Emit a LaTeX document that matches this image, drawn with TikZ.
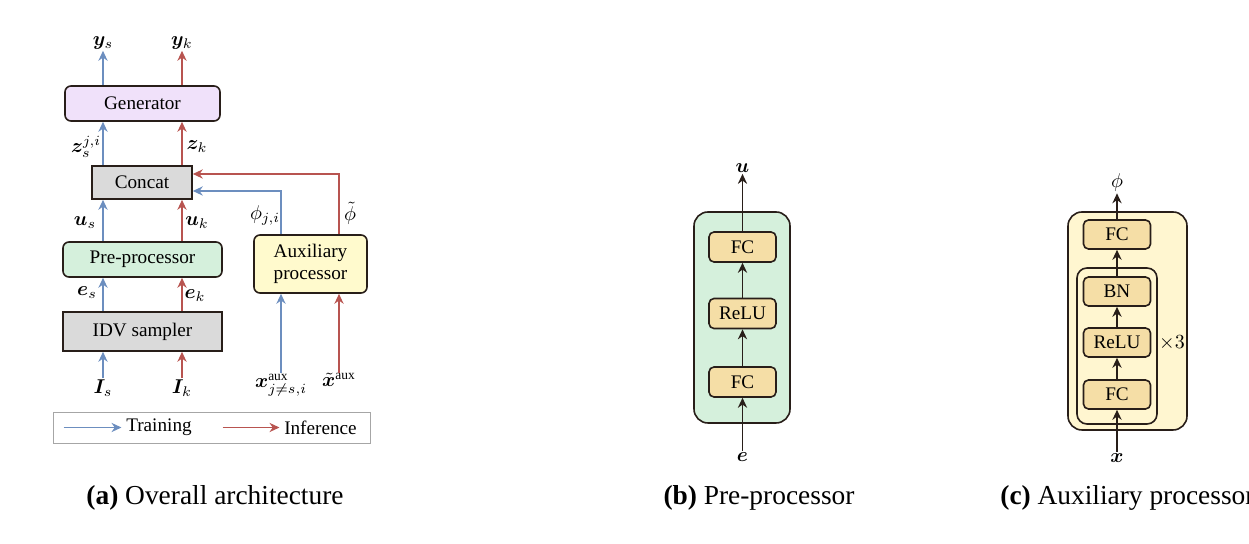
\documentclass[tikz,border=0pt]{standalone}
\usepackage{amsmath,amssymb,bm}
\usepackage{fontspec}
\setmainfont{Liberation Serif}
\usepackage{xcolor}
\usepackage{tikz}
\usetikzlibrary{arrows.meta}
\definecolor{trnblue}{RGB}{108,142,191}
\definecolor{infred}{RGB}{184,84,80}
\definecolor{genfill}{RGB}{240,225,250}
\definecolor{catfill}{RGB}{218,218,218}
\definecolor{prefill}{RGB}{213,240,220}
\definecolor{auxfill}{RGB}{255,250,205}
\definecolor{layfill}{RGB}{245,222,166}
\definecolor{panfill}{RGB}{255,246,208}
\definecolor{edge}{RGB}{40,30,25}

\begin{document}
\begin{tikzpicture}[x=0.5pt,y=-0.5pt,>={Stealth[length=5pt,width=4.6pt]},
  font=\fontsize{9.6}{11}\selectfont,
  blk/.style={draw=edge,line width=0.8pt,align=center,inner sep=1pt},
  rblk/.style={blk,rounded corners=3pt},
  layer/.style={blk,rounded corners=2.5pt,fill=layfill,minimum width=33.5pt,minimum height=15pt},
  panel/.style={draw=edge,line width=0.8pt,rounded corners=7pt},
  trn/.style={->,trnblue,line width=0.75pt},
  inf/.style={->,infred,line width=0.75pt},
  arr/.style={->,edge,line width=0.9pt},
  lab/.style={inner sep=0.5pt},
  subcap/.style={font=\fontsize{13.7}{16}\selectfont,inner sep=0pt}]
\useasboundingbox (0,0) rectangle (1249,544);
% (a) blocks
\node[rblk,fill=genfill,minimum width=77.5pt,minimum height=17.5pt] (gen) at (142.5,103.5) {Generator};
\node[blk,fill=catfill,minimum width=50pt,minimum height=16.5pt] (cat) at (142,182.5) {Concat};
\node[rblk,fill=prefill,minimum width=79.5pt,minimum height=17.5pt] (pre) at (142.5,259.5) {Pre-processor};
\node[blk,fill=catfill,minimum width=79.5pt,minimum height=19.5pt] (idv) at (142.5,331.5) {IDV sampler};
\node[rblk,fill=auxfill,minimum width=56.5pt,minimum height=29pt] (aux) at (310.5,264) {Auxiliary\\processor};
% (a) inputs and outputs
\node[lab] (Is) at (103,388) {$\bm{I}_s$};
\node[lab] (Ik) at (182,388) {$\bm{I}_k$};
\node[lab] (xa) at (281,385) {$\bm{x}^{\mathrm{aux}}_{j\neq s,i}$};
\node[lab] (xt) at (339,380) {$\tilde{\bm{x}}^{\mathrm{aux}}$};
\node[lab] (ys) at (103,43) {$\bm{y}_s$};
\node[lab] (yk) at (182,43) {$\bm{y}_k$};
% (a) training and inference paths
\draw[trn] (Is) -- (Is |- idv.south);
\draw[inf] (Ik) -- (Ik |- idv.south);
\draw[trn] (Is |- idv.north) -- (Is |- pre.south);
\draw[inf] (Ik |- idv.north) -- (Ik |- pre.south);
\draw[trn] (Is |- pre.north) -- (Is |- cat.south);
\draw[inf] (Ik |- pre.north) -- (Ik |- cat.south);
\draw[trn] (Is |- cat.north) -- (Is |- gen.south);
\draw[inf] (Ik |- cat.north) -- (Ik |- gen.south);
\draw[trn] (Is |- gen.north) -- (ys);
\draw[inf] (Ik |- gen.north) -- (yk);
\draw[trn] (xa) -- (xa |- aux.south);
\draw[inf] (xt |- xa.north) -- (xt |- aux.south);
\draw[trn] (xa |- aux.north) |- ([yshift=-4.25pt]cat.east);
\draw[inf] (xt |- aux.north) |- ([yshift=4.25pt]cat.east);
% (a) edge labels
\node[lab] at (87,293) {$\bm{e}_s$};
\node[lab] at (195,296) {$\bm{e}_k$};
\node[lab] at (85,223) {$\bm{u}_s$};
\node[lab] at (197,223) {$\bm{u}_k$};
\node[lab] at (86,147) {$\bm{z}_s^{j,i}$};
\node[lab] at (197,147) {$\bm{z}_k$};
\node[lab] at (265,215) {$\phi_{j,i}$};
\node[lab] at (350,213) {$\tilde{\phi}$};
% (a) legend
\node[draw=gray!70,line width=0.5pt,minimum width=158.5pt,minimum height=15.5pt,inner sep=0pt] (leg) at (211.5,428.5) {};
\draw[trn] ([xshift=5.5pt,yshift=0.5pt]leg.west) -- ++(29pt,0) node[right,black,inner sep=2pt] {Training};
\draw[inf] ([xshift=85pt,yshift=0.5pt]leg.west) -- ++(28.5pt,0) node[right,black,inner sep=2pt] {Inference};
% (b) pre-processor
\node[panel,fill=prefill,minimum width=48pt,minimum height=105.5pt] (bpan) at (742,317.5) {};
\node[layer] (bfc1) at (742.5,382) {FC};
\node[layer] (brelu) at (742.5,313.5) {ReLU};
\node[layer] (bfc2) at (742.5,247) {FC};
\node[lab] (be) at (742.5,457) {$\bm{e}$};
\node[lab] (bu) at (742.5,168) {$\bm{u}$};
\draw[arr] (be) -- (bfc1);
\draw[arr] (bfc1) -- (brelu);
\draw[arr] (brelu) -- (bfc2);
\draw[arr] (bfc2) -- (bu);
% (c) auxiliary processor
\node[panel,fill=panfill,minimum width=59.5pt,minimum height=109pt] (cpan) at (1127.5,321) {};
\node[panel,rounded corners=5pt,fill=panfill,minimum width=40pt,minimum height=78pt] (crep) at (1117,346) {};
\node[layer,minimum height=14.5pt] (cfc1) at (1117,394.5) {FC};
\node[layer,minimum height=14.5pt] (crelu) at (1117,342.5) {ReLU};
\node[layer,minimum height=14.5pt] (cbn) at (1117,291.5) {BN};
\node[layer,minimum height=14.5pt] (cfc2) at (1117,234.5) {FC};
\node[lab,anchor=west] at (crep.east |- crelu) {$\times 3$};
\node[lab] (cx) at (1117,458) {$\bm{x}$};
\node[lab] (cphi) at (1117,183) {$\phi$};
\draw[arr] (cx) -- (cfc1);
\draw[arr] (cfc1) -- (crelu);
\draw[arr] (crelu) -- (cbn);
\draw[arr] (cbn) -- (cfc2);
\draw[arr] (cfc2) -- (cphi);
% sub-captions
\node[subcap] at (215,498) {\textbf{(a)} Overall architecture};
\node[subcap] at (759,498) {\textbf{(b)} Pre-processor};
\node[subcap,anchor=west] at (1000,498) {\textbf{(c)} Auxiliary processor};
\end{tikzpicture}
\end{document}
